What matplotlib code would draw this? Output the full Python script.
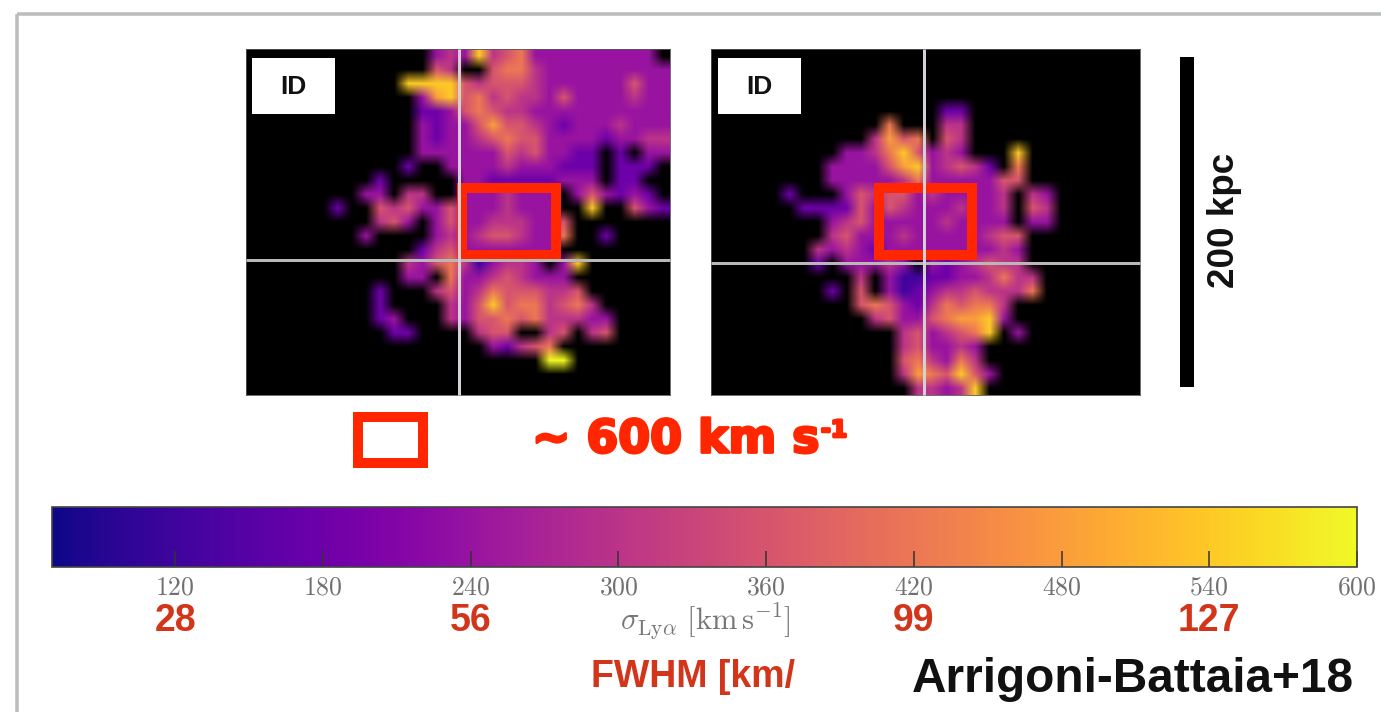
#!/usr/bin/env python3
"""Two sigma maps of a Lya nebula with a shared colorbar, redrawn by hand."""

import numpy as np
import matplotlib
matplotlib.use("Agg")
import matplotlib.pyplot as plt
import matplotlib.patheffects as pe
from matplotlib.colors import Normalize
from matplotlib.patches import Rectangle

# ----------------------
# Data
# ----------------------
# one character per map cell: "." = no signal, 1-9 = index into sigma_levels
sigma_levels = [120, 180, 240, 300, 360, 420, 480, 540, 600]

left_rows = [
    ".............3438456333333333.",
    ".............54..5664333333333",
    "...........8888545554333333533",
    "............378564544353333433",
    "............223565443333333333",
    "............323357554323334333",
    "............323345655333323344",
    "............3333335453322.2.33",
    "...........2..33334333222.222.",
    ".........2.....3322222333.22..",
    "........33.44..3334333.353232.",
    "......2..5453353334333..8..532",
    ".........453.3533444335.......",
    "........3....3434554336..2....",
    "............2453333333........",
    "...........4356413443.38......",
    "...........33.633454333.......",
    ".........2...45346555445......",
    ".........2....43585664564.....",
    ".........23...435565644433....",
    "..........22....455..45.45....",
    ".................32456........",
    ".....................99.......",
    "..............................",
    "..............................",
]

right_rows = [
    "..............................",
    "..............................",
    "..............................",
    "..............................",
    "................22............",
    "............6...44............",
    "...........4756.54............",
    ".........334685343...8........",
    "........333357834542.6........",
    "........33333463333355........",
    ".....2...354553433334.43......",
    "......222253543334334.54......",
    "........3453333343333.33......",
    "........45333433333455........",
    ".......434323333333343........",
    ".......2.33343.3234544........",
    "..........4.31122334644.......",
    "........2.5.31234454446.......",
    "..........56532465664.........",
    "...........4533567783.........",
    ".............4534568.3........",
    ".............453343...........",
    ".............564364...........",
    ".............4765853..........",
    "..............44348...........",
]

cbar_ticks = [120, 180, 240, 300, 360, 420, 480, 540, 600]
fwhm_labels = ["28", "56", "99", "127"]
fwhm_ticks = [120, 240, 420, 540]
sigma_min = 70
sigma_max = 600

# ----------------------
# Layout, in picture pixels
# ----------------------
W, H = 1381, 712
RED = "#ff2600"
DARK_RED = "#d2351a"
GRID = "#b8b8b8"


def px_axes(fig, left, top, right, bottom, **kw):
    return fig.add_axes([left / W, 1 - bottom / H, (right - left) / W, (bottom - top) / H], **kw)


def px(width):
    return width * 0.72


def decode(rows):
    grid = np.full((len(rows), len(rows[0])), np.nan)
    for i, row in enumerate(rows):
        for j, ch in enumerate(row):
            if ch != ".":
                grid[i, j] = sigma_levels[int(ch) - 1]
    return np.ma.masked_invalid(grid)


plt.rcParams["font.family"] = ["Liberation Sans", "DejaVu Sans"]
plt.rcParams["mathtext.fontset"] = "cm"

fig = plt.figure(figsize=(W / 100, H / 100), dpi=100, facecolor="white")

cmap = plt.get_cmap("plasma").copy()
cmap.set_bad("black")
norm = Normalize(sigma_min, sigma_max)

# ----------------------
# Maps
# ----------------------
panels = [
    (left_rows, (246, 49, 670, 395), 459, 260, (462, 188, 556, 255), (252, 58, 335, 114)),
    (right_rows, (711, 49, 1140, 395), 924, 263, (879, 188, 972, 255), (718, 58, 801, 114)),
]

ax = px_axes(fig, 0, 0, W, H, zorder=5)
ax.set_xlim(0, W)
ax.set_ylim(H, 0)
ax.axis("off")

for rows, box, vx, hy, rect, id_box in panels:
    pan = px_axes(fig, box[0], box[1], box[2], box[3])
    pan.imshow(decode(rows), cmap=cmap, norm=norm, aspect="auto",
               interpolation="bilinear", interpolation_stage="rgba")
    pan.set_xticks([])
    pan.set_yticks([])
    for s in pan.spines.values():
        s.set_color("#555555")
        s.set_linewidth(0.6)

    ax.plot([box[0], box[2]], [hy, hy], color=GRID, lw=px(3), solid_capstyle="butt")
    ax.plot([vx, vx], [box[1], box[3]], color="#d5d0d8", lw=px(3), solid_capstyle="butt")
    ax.add_patch(Rectangle((rect[0], rect[1]), rect[2] - rect[0], rect[3] - rect[1],
                           fill=False, ec=RED, lw=px(10)))
    ax.add_patch(Rectangle((id_box[0], id_box[1]), id_box[2] - id_box[0], id_box[3] - id_box[1],
                           fc="white", ec="none"))
    ax.text((id_box[0] + id_box[2]) / 2, 87, "ID", fontsize=19, fontweight="bold",
            ha="center", va="center", color="#111111")

# ----------------------
# Frame, scale bar and size key
# ----------------------
ax.add_patch(Rectangle((17, 14), W, H, fill=False, ec="#b9bdbc", lw=px(3.5)))
ax.add_patch(Rectangle((1180, 57), 14, 330, fc="black", ec="none"))
ax.text(1225, 220, "200 kpc", rotation=90, fontsize=26.5, fontweight="bold",
        ha="center", va="center", color="#111111")

ax.add_patch(Rectangle((358, 417), 65, 46, fill=False, ec=RED, lw=px(10)))
heavy = [pe.withStroke(linewidth=2, foreground=RED)]
ax.text(532, 440, "~ 600 km s", fontsize=33, family=["DejaVu Sans"], fontweight="bold",
        ha="left", va="center", color=RED, path_effects=heavy)
ax.text(821, 430, "-1", fontsize=17, family=["DejaVu Sans"], fontweight="bold",
        ha="left", va="center", color=RED, path_effects=heavy)

# ----------------------
# Colorbar
# ----------------------
cax = px_axes(fig, 52, 507, 1357, 567)
sm = plt.cm.ScalarMappable(norm=norm, cmap=cmap)
cbar = fig.colorbar(sm, cax=cax, orientation="horizontal", ticks=cbar_ticks)
cbar.ax.set_xticklabels([f"${v}$" for v in cbar_ticks])
cbar.ax.tick_params(direction="in", length=11.5, width=1.1, color="#333333",
                    labelsize=18.5, labelcolor="#707070", pad=6)
cbar.outline.set_edgecolor("#444444")
cbar.outline.set_linewidth(1.2)

# second scale written under the first
for lab, tick in zip(fwhm_labels, fwhm_ticks):
    x = 52 + (tick - sigma_min) / (sigma_max - sigma_min) * (1357 - 52)
    ax.text(x, 621, lab, fontsize=27, fontweight="bold", ha="center", va="center",
            color=DARK_RED)

ax.text(705, 622, r"$\sigma_{\rm Ly\alpha}\ [\rm km\,s^{-1}]$", fontsize=22,
        ha="center", va="center", color="#777777")
ax.text(591, 677, "FWHM [km/", fontsize=27, fontweight="bold", ha="left", va="center",
        color=DARK_RED)
ax.text(912, 680, "Arrigoni-Battaia+18", fontsize=34.4, fontweight="bold", ha="left",
        va="center", color="#111111")

plt.savefig("out.png", dpi=100)
